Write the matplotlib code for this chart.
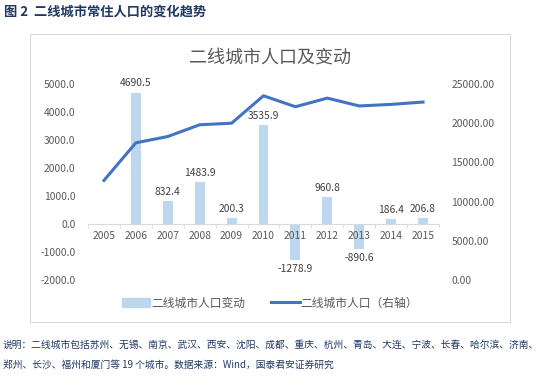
import numpy as np
import matplotlib.pyplot as plt
from matplotlib.patches import Rectangle, Patch
from matplotlib.lines import Line2D

plt.rcParams['font.family'] = ['Noto Sans CJK SC', 'DejaVu Sans']

years = ['2005', '2006', '2007', '2008', '2009', '2010',
         '2011', '2012', '2013', '2014', '2015']
change = [0, 4690.5, 832.4, 1483.9, 200.3, 3535.9,
          -1278.9, 960.8, -890.6, 186.4, 206.8]
population = [12700, 17500, 18300, 19800, 20000, 23500,
              22100, 23200, 22200, 22400, 22700]
left_ticks = [-2000, -1000, 0, 1000, 2000, 3000, 4000, 5000]
right_ticks = [0, 5000, 10000, 15000, 20000, 25000]

bar_color = '#BDD7EE'
line_color = '#4472C4'
gray = '#595959'
navy = '#1F3864'

W, H = 546, 377
fig = plt.figure(figsize=(W / 100, H / 100), dpi=100)

# outer chart frame
fig.patches.append(Rectangle((30 / W, 1 - 322 / H), 480 / W, 288 / H,
                             transform=fig.transFigure, fill=False,
                             edgecolor='#D9D9D9', linewidth=0.8))

ax = fig.add_axes([88 / W, 1 - 280 / H, 351 / W, 196 / H])
x = np.arange(len(years))

# bars under the axis so the year labels stay readable
ax.bar(x, change, width=0.31, color=bar_color, zorder=1)
ax.set_axisbelow(False)
ax.set_xlim(-0.5, len(years) - 0.5)
ax.set_ylim(-2000, 5000)
ax.set_yticks(left_ticks)
ax.set_yticklabels([f'{v:.1f}' for v in left_ticks], color=gray, fontsize=7.4)
ax.tick_params(axis='y', length=0, pad=9)

for s in ['top', 'right', 'left']:
    ax.spines[s].set_visible(False)
ax.spines['bottom'].set_position(('data', 0))
ax.spines['bottom'].set_color('#D9D9D9')
ax.set_xticks(x)
ax.set_xticklabels(years, color=gray, fontsize=7.4)
ax.set_xticks(np.arange(len(years) + 1) - 0.5, minor=True)
ax.tick_params(axis='x', which='major', length=0, pad=5)
ax.tick_params(axis='x', which='minor', length=3, color='#D9D9D9')

for xi, v in zip(x, change):
    if v == 0:
        continue
    ax.annotate(f'{v:.1f}', (xi, v), xytext=(0, 3 if v > 0 else -3),
                textcoords='offset points', ha='center',
                va='bottom' if v > 0 else 'top', fontsize=7.4, color='#404040')

ax2 = ax.twinx()
ax2.plot(x, population, color=line_color, linewidth=2.2, zorder=3)
ax2.set_ylim(0, 25000)
ax2.set_yticks(right_ticks)
ax2.set_yticklabels([f'{v:.2f}' for v in right_ticks], color=gray, fontsize=7.4)
ax2.tick_params(axis='y', length=0, pad=9)
for s in ax2.spines.values():
    s.set_visible(False)

fig.text(270 / W, 1 - 58 / H, '二线城市人口及变动', ha='center', va='center',
         fontsize=13, color=gray)

handles = [Patch(color=bar_color), Line2D([], [], color=line_color, linewidth=2.2)]
fig.legend(handles, ['二线城市人口变动', '二线城市人口（右轴）'], ncol=2,
           loc='center', bbox_to_anchor=(270 / W, 1 - 303 / H), frameon=False,
           fontsize=8.5, labelcolor=gray, handlelength=2.4, handletextpad=0.1,
           columnspacing=2.2)

fig.text(4 / W, 1 - 12 / H, '图 2  二线城市常住人口的变化趋势', ha='left', va='center',
         fontsize=9.5, fontweight='bold', color=navy)
fig.text(3 / W, 1 - 345 / H,
         '说明：二线城市包括苏州、无锡、南京、武汉、西安、沈阳、成都、重庆、杭州、青岛、大连、宁波、长春、哈尔滨、济南、',
         ha='left', va='center', fontsize=7, color=navy)
fig.text(3 / W, 1 - 365 / H,
         '郑州、长沙、福州和厦门等 19 个城市。数据来源：Wind，国泰君安证券研究',
         ha='left', va='center', fontsize=7, color=navy)

fig.savefig('out.png', dpi=100)
